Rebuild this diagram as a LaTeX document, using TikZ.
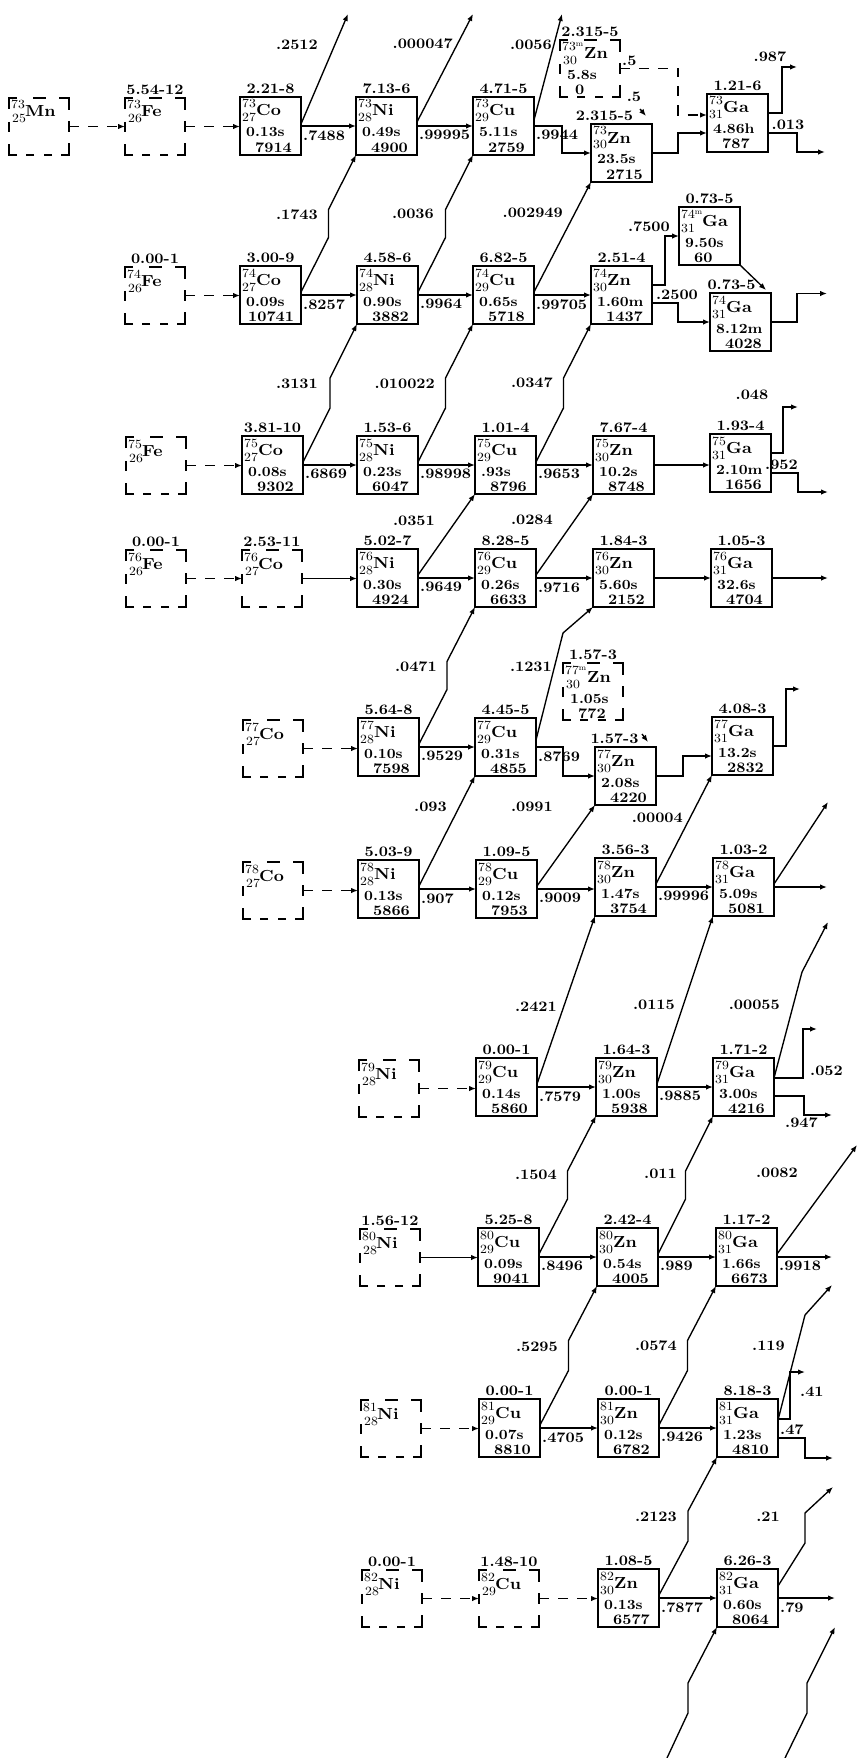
\documentclass[tikz,border=0pt]{standalone}
\usepackage{fontspec}
\setmainfont{lmroman10}[Extension=.otf, UprightFont=*-regular, BoldFont=*-bold, FakeStretch=1.1]
\usetikzlibrary{arrows.meta,calc}
\tikzset{
  nbx/.style={draw, line width=1.35pt, minimum width=61pt, minimum height=58pt, anchor=north west, inner sep=0pt, outer sep=0pt},
  dnd/.style={minimum width=60pt, minimum height=57pt, anchor=north west, inner sep=0pt, outer sep=0pt},
  dfr/.style={line width=1.4pt},
  za/.style={font=\fontsize{12.5}{13}\selectfont, inner sep=0pt, anchor=base west},
  sym/.style={font=\bfseries\fontsize{16}{16}\selectfont, inner sep=0pt, anchor=base west},
  hl/.style={font=\bfseries\fontsize{14}{14}\selectfont, inner sep=0pt, anchor=base west},
  num/.style={font=\bfseries\fontsize{14.5}{15}\selectfont, inner sep=0pt, anchor=base west},
  ltop/.style={font=\bfseries\fontsize{14.5}{15}\selectfont, inner sep=0pt, anchor=south},
  lab/.style={font=\bfseries\fontsize{14.5}{15}\selectfont, inner sep=0pt},
  arr/.style={line width=1.35pt, -{Latex[length=7pt,width=5.5pt]}},
  darr/.style={arr, dash pattern=on 10pt off 9pt},
}
\newcommand{\isom}{\raisebox{4pt}{\fontsize{8}{8}\selectfont m}}
\newcommand{\dfrm}[2]{%
 \begin{scope}[shift={(#1,#2)}]
  \draw[dfr] (0,11) -- (0,0) -- (8,0);
  \draw[dfr] (24,0) -- (37,0);
  \draw[dfr] (50,0) -- (60,0) -- (60,12);
  \draw[dfr] (60,23) -- (60,34);
  \draw[dfr] (60,45) -- (60,57) -- (52,57);
  \draw[dfr] (43,57) -- (35,57);
  \draw[dfr] (25,57) -- (17,57);
  \draw[dfr] (8,57) -- (0,57) -- (0,46);
  \draw[dfr] (0,24) -- (0,34);
 \end{scope}}
\newcommand{\nucbox}[9]{%
  \node[nbx] (#1) at (#2,#3) {};
  \node[ltop] (#1-t) at ([yshift=3pt]#1.north) {#9};
  \node[za] (#1-a) at ($(#1.north west)+(2,11)$) {#4};
  \node[za] (#1-z) at ($(#1.north west)+(2,25)$) {#5};
  \node[sym] (#1-e) at ($(#1.north west)+(16,19)$) {#6};
  \node[hl] (#1-h) at ($(#1.north west)+(6,40)$) {#7};
  \node[num] (#1-n) at ($(#1.north west)+(15,55)$) {#8};}
\newcommand{\dnuc}[7]{%
  \node[dnd] (#1) at (#2,#3) {};
  \dfrm{#2}{#3}
  \node[ltop] (#1-t) at ([yshift=3pt]#1.north) {#7};
  \node[za] (#1-a) at ($(#1.north west)+(2,11)$) {#4};
  \node[za] (#1-z) at ($(#1.north west)+(3,25)$) {#5};
  \node[sym] (#1-e) at ($(#1.north west)+(16,19)$) {#6};}
\newcommand{\isonuc}[9]{%
  \node[dnd] (#1) at (#2,#3) {};
  \dfrm{#2}{#3}
  \node[ltop] (#1-t) at ([yshift=3pt]#1.north) {#9};
  \node[za] (#1-a) at ($(#1.north west)+(2,11)$) {#4};
  \node[za] (#1-z) at ($(#1.north west)+(3,25)$) {#5};
  \node[sym] (#1-e) at ($(#1.north west)+(24,19)$) {#6};
  \node[hl] (#1-h) at ($(#1.north west)+(7,40)$) {#7};
  \node[num] (#1-n) at ($(#1.north west)+(15,55)$) {#8};}
\newcommand{\harr}[3]{\draw[#1] (#2.east) -- (#2.east -| #3.west);}
\newcommand{\hlab}[2]{\node[lab, anchor=north west] (#1-hl) at ($(#1.east)+(2,4)$) {#2};}
\newcommand{\jogarrow}[3]{%
  \path ([yshift=3pt]#1.east) coordinate (#1-js);
  \draw[arr] (#1-js) -- ($(#1-js)!.5!(#2)+(0,#3)$) -- ($(#1-js)!.5!(#2)+(0,-#3)$) -- (#2);}
\begin{document}
\begin{tikzpicture}[x=1pt,y=-1pt]
\fill[white] (0,0) rectangle (858,1758);
\useasboundingbox (0,0) rectangle (858,1758);

% ---------------- row 73
\dnuc{mn73}{9}{98}{73}{25}{Mn}{}
\dnuc{fe73}{125}{98}{73}{26}{Fe}{5.54-12}
\nucbox{co73}{240}{97}{73}{27}{Co}{0.13s}{7914}{2.21-8}
\nucbox{ni73}{356}{97}{73}{28}{Ni}{0.49s}{4900}{7.13-6}
\nucbox{cu73}{473}{97}{73}{29}{Cu}{5.11s}{2759}{4.71-5}
\isonuc{zn73m}{560}{40}{73\isom}{30}{Zn}{5.8s}{0}{2.315-5}
\nucbox{zn73}{591}{124}{73}{30}{Zn}{23.5s}{2715}{}
\node[ltop] (zn73-t2) at ($(zn73.north)+(-17,-3)$) {2.315-5};
\nucbox{ga73}{707}{94}{73}{31}{Ga}{4.86h}{787}{1.21-6}

% ---------------- row 74
\dnuc{fe74}{125}{267}{74}{26}{Fe}{0.00-1}
\nucbox{co74}{240}{266}{74}{27}{Co}{0.09s}{\hspace*{-7pt}10741}{3.00-9}
\nucbox{ni74}{357}{266}{74}{28}{Ni}{0.90s}{3882}{4.58-6}
\nucbox{cu74}{473}{266}{74}{29}{Cu}{0.65s}{5718}{6.82-5}
\nucbox{zn74}{591}{266}{74}{30}{Zn}{1.60m}{1437}{2.51-4}
\nucbox{ga74m}{679}{207}{74\isom}{31}{\hspace*{7pt}Ga}{9.50s}{60}{0.73-5}
\nucbox{ga74}{710}{293}{74}{31}{Ga}{8.12m}{4028}{}
\node[ltop] (ga74-t2) at ($(ga74.north)+(-9,-3)$) {0.73-5};

% ---------------- row 75
\dnuc{fe75}{126}{437}{75}{26}{Fe}{}
\nucbox{co75}{242}{436}{75}{27}{Co}{0.08s}{9302}{3.81-10}
\nucbox{ni75}{357}{436}{75}{28}{Ni}{0.23s}{6047}{1.53-6}
\nucbox{cu75}{475}{436}{75}{29}{Cu}{.93s}{8796}{1.01-4}
\nucbox{zn75}{593}{436}{75}{30}{Zn}{10.2s}{8748}{7.67-4}
\nucbox{ga75}{710}{434}{75}{31}{Ga}{2.10m}{1656}{1.93-4}

% ---------------- row 76
\dnuc{fe76}{126}{550}{76}{26}{Fe}{0.00-1}
\dnuc{co76}{242}{550}{76}{27}{Co}{2.53-11}
\nucbox{ni76}{357}{549}{76}{28}{Ni}{0.30s}{4924}{5.02-7}
\nucbox{cu76}{475}{549}{76}{29}{Cu}{0.26s}{6633}{8.28-5}
\nucbox{zn76}{593}{549}{76}{30}{Zn}{5.60s}{2152}{1.84-3}
\nucbox{ga76}{711}{549}{76}{31}{Ga}{32.6s}{4704}{1.05-3}

% ---------------- row 77
\dnuc{co77}{243}{720}{77}{27}{Co}{}
\nucbox{ni77}{358}{718}{77}{28}{Ni}{0.10s}{7598}{5.64-8}
\nucbox{cu77}{475}{718}{77}{29}{Cu}{0.31s}{4855}{4.45-5}
\isonuc{zn77m}{563}{663}{77\isom}{30}{Zn}{1.05s}{772}{1.57-3}
\nucbox{zn77}{595}{747}{77}{30}{Zn}{2.08s}{4220}{}
\node[ltop] (zn77-t2) at ($(zn77.north)+(-11,-3)$) {1.57-3};
\nucbox{ga77}{712}{717}{77}{31}{Ga}{13.2s}{2832}{4.08-3}

% ---------------- row 78
\dnuc{co78}{243}{862}{78}{27}{Co}{}
\nucbox{ni78}{358}{860}{78}{28}{Ni}{0.13s}{5866}{5.03-9}
\nucbox{cu78}{476}{860}{78}{29}{Cu}{0.12s}{7953}{1.09-5}
\nucbox{zn78}{595}{858}{78}{30}{Zn}{1.47s}{3754}{3.56-3}
\nucbox{ga78}{713}{858}{78}{31}{Ga}{5.09s}{5081}{1.03-2}

% ---------------- row 79
\dnuc{ni79}{359}{1060}{79}{28}{Ni}{}
\nucbox{cu79}{476}{1058}{79}{29}{Cu}{0.14s}{5860}{0.00-1}
\nucbox{zn79}{596}{1058}{79}{30}{Zn}{1.00s}{5938}{1.64-3}
\nucbox{ga79}{713}{1058}{79}{31}{Ga}{3.00s}{4216}{1.71-2}

% ---------------- row 80
\dnuc{ni80}{360}{1229}{80}{28}{Ni}{1.56-12}
\nucbox{cu80}{478}{1228}{80}{29}{Cu}{0.09s}{9041}{5.25-8}
\nucbox{zn80}{597}{1228}{80}{30}{Zn}{0.54s}{4005}{2.42-4}
\nucbox{ga80}{716}{1228}{80}{31}{Ga}{1.66s}{6673}{1.17-2}

% ---------------- row 81
\dnuc{ni81}{361}{1400}{81}{28}{Ni}{}
\nucbox{cu81}{479}{1399}{81}{29}{Cu}{0.07s}{8810}{0.00-1}
\nucbox{zn81}{598}{1399}{81}{30}{Zn}{0.12s}{6782}{0.00-1}
\nucbox{ga81}{717}{1399}{81}{31}{Ga}{1.23s}{4810}{8.18-3}

% ---------------- row 82
\dnuc{ni82}{362}{1570}{82}{28}{Ni}{0.00-1}
\dnuc{cu82}{479}{1570}{82}{29}{Cu}{1.48-10}
\nucbox{zn82}{598}{1569}{82}{30}{Zn}{0.13s}{6577}{1.08-5}
\nucbox{ga82}{717}{1569}{82}{31}{Ga}{0.60s}{8064}{6.26-3}

% ================= connectors
% row 73
\harr{darr}{mn73}{fe73}
\harr{darr}{fe73}{co73}
\harr{arr}{co73}{ni73} \hlab{co73}{.7488}
\harr{arr}{ni73}{cu73} \hlab{ni73}{.99995}
\coordinate (f-co73) at (348,14);
\coordinate (f-ni73) at (473,14);
\coordinate (f-cu73) at (562,14);
\draw[arr] ([yshift=2pt]co73.east) -- (f-co73);
\draw[arr] ([yshift=4pt]ni73.east) -- (f-ni73);
\draw[arr] ([yshift=6pt]cu73.east) -- (f-cu73);
\draw[arr] (cu73.east) -| ($(zn73.west)+(-29,0)$) -- (zn73.west);
\hlab{cu73}{.9944}
\draw[arr] (zn73.east) -| ($(ga73.west)+(-29,10)$) -- ([yshift=-10pt]ga73.west);
\draw[darr] (zn73m.east) -| ($(ga73.west)+(-29,-8)$) -- ([yshift=8pt]ga73.west);
\coordinate (it73) at (640,109);
\draw[arr] (it73) -- ($(zn73.north east)+(-6,-8)$);
\coordinate (k73a) at (782,67); \coordinate (o73a) at (797,67);
\draw[arr] ([yshift=10pt]ga73.east) -| (k73a) -- (o73a);
\coordinate (k73b) at (797,152); \coordinate (o73b) at (825,152);
\draw[arr] ([yshift=-10pt]ga73.east) -| (k73b) -- (o73b);

% row 74
\harr{darr}{fe74}{co74}
\harr{arr}{co74}{ni74} \hlab{co74}{.8257}
\jogarrow{co74}{ni73.south west}{14}
\harr{arr}{ni74}{cu74} \hlab{ni74}{.9964}
\jogarrow{ni74}{cu73.south west}{14}
\harr{arr}{cu74}{zn74} \hlab{cu74}{.99705}
\draw[arr] ([yshift=3pt]cu74.east) -- (zn73.south west);
\draw[arr] ([yshift=10pt]zn74.east) -| ($(ga74m.west)+(-14,0)$) -- (ga74m.west);
\draw[arr] ([yshift=-8pt]zn74.east) -| ($(ga74.west)+(-32,0)$) -- (ga74.west);
\draw[arr] (ga74m.south east) -- ([xshift=-5pt,yshift=3pt]ga74.north east);
\coordinate (k74) at (797,293.5); \coordinate (o74) at (827,293.5);
\draw[arr] (ga74.east) -| (k74) -- (o74);

% row 75
\harr{darr}{fe75}{co75}
\harr{arr}{co75}{ni75} \hlab{co75}{.6869}
\jogarrow{co75}{ni74.south west}{15}
\harr{arr}{ni75}{cu75} \hlab{ni75}{.98998}
\jogarrow{ni75}{cu74.south west}{15}
\harr{arr}{cu75}{zn75} \hlab{cu75}{.9653}
\jogarrow{cu75}{zn74.south west}{15}
\harr{arr}{zn75}{ga75}
\coordinate (k75a) at (783,407); \coordinate (o75a) at (798,407);
\draw[arr] ([yshift=10pt]ga75.east) -| (k75a) -- (o75a);
\coordinate (k75b) at (798,492); \coordinate (o75b) at (828,492);
\draw[arr] ([yshift=-10pt]ga75.east) -| (k75b) -- (o75b);

% row 76
\harr{darr}{fe76}{co76}
\harr{arr}{co76}{ni76}
\harr{arr}{ni76}{cu76} \hlab{ni76}{.9649}
\draw[arr] ([yshift=3pt]ni76.east) -- (cu75.south west);
\harr{arr}{cu76}{zn76} \hlab{cu76}{.9716}
\draw[arr] ([yshift=3pt]cu76.east) -- (zn75.south west);
\harr{arr}{zn76}{ga76}
\coordinate (o76) at (828,578);
\draw[arr] (ga76.east) -- (ga76.east -| o76);

% row 77
\harr{darr}{co77}{ni77}
\harr{arr}{ni77}{cu77} \hlab{ni77}{.9529}
\jogarrow{ni77}{cu76.south west}{14}
\draw[arr] (cu77.east) -| ($(zn77.west)+(-32,0)$) -- (zn77.west);
\hlab{cu77}{.8769}
\coordinate (b77) at (563,633);
\draw[arr] ([yshift=7pt]cu77.east) -- (b77) -- (zn76.south west);
\draw[arr] (zn77.east) -| ($(ga77.west)+(-29,10)$) -- ([yshift=-10pt]ga77.west);
\coordinate (k77) at (786,689); \coordinate (o77) at (800,689);
\draw[arr] (ga77.east) -| (k77) -- (o77);
\coordinate (it77) at (642,734);
\draw[arr] (it77) -- ($(zn77.north east)+(-8,-5)$);

% row 78
\harr{darr}{co78}{ni78}
\harr{arr}{ni78}{cu78} \hlab{ni78}{.907}
\draw[arr] ([yshift=3pt]ni78.east) -- (cu77.south west);
\harr{arr}{cu78}{zn78} \hlab{cu78}{.9009}
\draw[arr] ([yshift=3pt]cu78.east) -- (zn77.south west);
\harr{arr}{zn78}{ga78} \hlab{zn78}{.99996}
\draw[arr] ([yshift=3pt]zn78.east) -- (ga77.south west);
\coordinate (o78) at (827,887);
\draw[arr] (ga78.east) -- (ga78.east -| o78);
\coordinate (f-ga78) at (828,802);
\draw[arr] ([yshift=3pt]ga78.east) -- (f-ga78);

% row 79
\harr{darr}{ni79}{cu79}
\harr{arr}{cu79}{zn79} \hlab{cu79}{.7579}
\draw[arr] ([yshift=3pt]cu79.east) -- (zn78.south west);
\harr{arr}{zn79}{ga79} \hlab{zn79}{.9885}
\draw[arr] ([yshift=3pt]zn79.east) -- (ga78.south west);
\coordinate (b79) at (802,972); \coordinate (f-ga79) at (828,922);
\draw[arr] ([yshift=9pt]ga79.east) -- (b79) -- (f-ga79);
\coordinate (k79a) at (803,1029); \coordinate (o79a) at (817,1029);
\draw[arr] ([yshift=9pt]ga79.east) -| (k79a) -- (o79a);
\coordinate (k79b) at (804,1115); \coordinate (o79b) at (832,1115);
\draw[arr] ([yshift=-9pt]ga79.east) -| (k79b) -- (o79b);

% row 80
\harr{arr}{ni80}{cu80}
\harr{arr}{cu80}{zn80} \hlab{cu80}{.8496}
\jogarrow{cu80}{zn79.south west}{14}
\harr{arr}{zn80}{ga80} \hlab{zn80}{.989}
\jogarrow{zn80}{ga79.south west}{14}
\coordinate (o80) at (832,1257);
\draw[arr] (ga80.east) -- (ga80.east -| o80);
\hlab{ga80}{.9918}
\coordinate (f-ga80) at (857,1145);
\draw[arr] ([yshift=3pt]ga80.east) -- (f-ga80);

% row 81
\harr{darr}{ni81}{cu81}
\harr{arr}{cu81}{zn81} \hlab{cu81}{.4705}
\jogarrow{cu81}{zn80.south west}{15}
\harr{arr}{zn81}{ga81} \hlab{zn81}{.9426}
\jogarrow{zn81}{ga80.south west}{15}
\coordinate (b81) at (805,1315); \coordinate (f-ga81) at (832,1285);
\draw[arr] ([yshift=8pt]ga81.east) -- (b81) -- (f-ga81);
\coordinate (k81a) at (790,1372); \coordinate (o81a) at (805,1372);
\draw[arr] ([yshift=9pt]ga81.east) -| (k81a) -- (o81a);
\coordinate (k81b) at (805,1458); \coordinate (o81b) at (833,1458);
\draw[arr] ([yshift=-10pt]ga81.east) -| (k81b) -- (o81b);

% row 82
\harr{darr}{ni82}{cu82}
\harr{darr}{cu82}{zn82}
\harr{arr}{zn82}{ga82} \hlab{zn82}{.7877}
\jogarrow{zn82}{ga81.south west}{15}
\coordinate (o82) at (835,1598);
\draw[arr] (ga82.east) -- (ga82.east -| o82);
\hlab{ga82}{.79}
\coordinate (b82a) at (805,1543); \coordinate (b82b) at (805,1513); \coordinate (f-ga82) at (833,1487);
\draw[arr] ([yshift=12pt]ga82.east) -- (b82a) -- (b82b) -- (f-ga82);
\coordinate (s1) at (667,1758); \coordinate (s1a) at (688,1713); \coordinate (s1b) at (688,1683);
\draw[arr] (s1) -- (s1a) -- (s1b) -- (ga82.south west);
\coordinate (s2) at (785,1758); \coordinate (s2a) at (807,1713); \coordinate (s2b) at (807,1683); \coordinate (f-s2) at (835,1627);
\draw[arr] (s2) -- (s2a) -- (s2b) -- (f-s2);

% ================= branch labels
\node[lab,anchor=east] (l01) at (318,45) {.2512};
\node[lab,anchor=east] (l02) at (453,44) {.000047};
\node[lab,anchor=east] (l03) at (552,45) {.0056};
\node[lab,anchor=east] (l04) at (318,215) {.1743};
\node[lab,anchor=east] (l05) at (434,214) {.0036};
\node[lab,anchor=east] (l06) at (563,213) {.002949};
\node[lab,anchor=east] (l07) at (318,384) {.3131};
\node[lab,anchor=east] (l08) at (435,384) {.010022};
\node[lab,anchor=east] (l09) at (553,383) {.0347};
\node[lab,anchor=east] (l10) at (435,521) {.0351};
\node[lab,anchor=east] (l11) at (553,520) {.0284};
\node[lab,anchor=east] (l12) at (437,667) {.0471};
\node[lab,anchor=east] (l13) at (552,667) {.1231};
\node[lab,anchor=east] (l14) at (447,807) {.093};
\node[lab,anchor=east] (l15) at (553,807) {.0991};
\node[lab,anchor=east] (l16) at (683,818) {.00004};
\node[lab,anchor=east] (l17) at (557,1007) {.2421};
\node[lab,anchor=east] (l18) at (675,1005) {.0115};
\node[lab,anchor=east] (l19) at (780,1005) {.00055};
\node[lab,anchor=east] (l20) at (557,1175) {.1504};
\node[lab,anchor=east] (l21) at (677,1174) {.011};
\node[lab,anchor=east] (l22) at (798,1173) {.0082};
\node[lab,anchor=east] (l23) at (558,1347) {.5295};
\node[lab,anchor=east] (l24) at (677,1346) {.0574};
\node[lab,anchor=east] (l25) at (785,1346) {.119};
\node[lab,anchor=east] (l26) at (677,1517) {.2123};
\node[lab,anchor=east] (l27) at (780,1517) {.21};
\node[lab,anchor=west] (l28) at (622,61) {.5};
\node[lab] (l29) at (634,97) {.5};
\node[lab] (l30) at (770,57) {.987};
\node[lab] (l31) at (788,125) {.013};
\node[lab,anchor=east] (l32) at (670,227) {.7500};
\node[lab] (l33) at (677,295) {.2500};
\node[lab] (l34) at (752,395) {.048};
\node[lab,anchor=west] (l35) at (765,465) {.952};
\node[lab,anchor=west] (l36) at (810,1071) {.052};
\node[lab,anchor=west] (l37) at (785,1123) {.947};
\node[lab,anchor=west] (l38) at (800,1392) {.41};
\node[lab,anchor=west] (l39) at (780,1430) {.47};
\end{tikzpicture}
\end{document}
